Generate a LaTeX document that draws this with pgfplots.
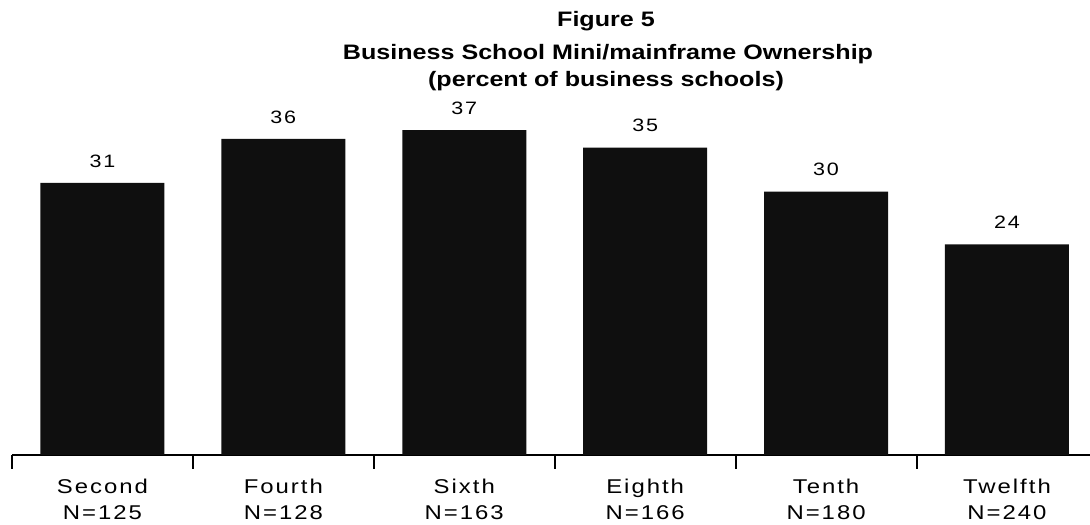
\documentclass[border=0pt]{standalone}
\usepackage{pgfplots}
\pgfplotsset{compat=1.18}
\usepackage{fontspec}
\setmainfont{Liberation Sans}
\newfontfamily\titlefont{Liberation Sans}[FakeStretch=1.2]
\newfontfamily\labfont{Liberation Sans}[FakeStretch=1.2, LetterSpace=10]
\begin{document}
\begin{tikzpicture}[x=1bp,y=1bp]
\path[use as bounding box] (0,0) rectangle (1090,525);
\begin{axis}[
  at={(12bp,70bp)}, anchor=south west,
  scale only axis, width=1078bp, height=351.2bp,
  xmin=-0.5, xmax=5.459, ymin=0, ymax=40,
  axis x line*=bottom, axis y line=none,
  axis line style={line width=1.6bp, black},
  xtick={0,1,2,3,4,5},
  xticklabels={{Second\\N=125},{Fourth\\N=128},{Sixth\\N=163},{Eighth\\N=166},{Tenth\\N=180},{Twelfth\\N=240}},
  major tick length=0pt,
  minor xtick={-0.5,0.5,1.5,2.5,3.5,4.5},
  minor tick length=14bp,
  tick align=center,
  tick style={line width=2bp, black},
  ytick=\empty,
  xticklabel style={font=\labfont\fontsize{20}{26}\selectfont, align=center, yshift=-21bp},
  ybar, bar width=124bp,
  /pgf/number format/assume math mode=true,
  nodes near coords,
  nodes near coords style={font=\labfont\fontsize{18}{18}\selectfont, yshift=12bp},
  clip=false,
]
\addplot[fill=black!94, draw=none] coordinates {(0,31)(1,36)(2,37)(3,35)(4,30)(5,24)};
\end{axis}
\begin{scope}[every node/.style={anchor=base, font=\titlefont\bfseries\fontsize{21}{25}\selectfont}]
\node at (606,525-27) {Figure 5};
\node at (608,525-60) {Business School Mini/mainframe Ownership};
\node at (606,525-87) {(percent of business schools)};
\end{scope}
\end{tikzpicture}
\end{document}
